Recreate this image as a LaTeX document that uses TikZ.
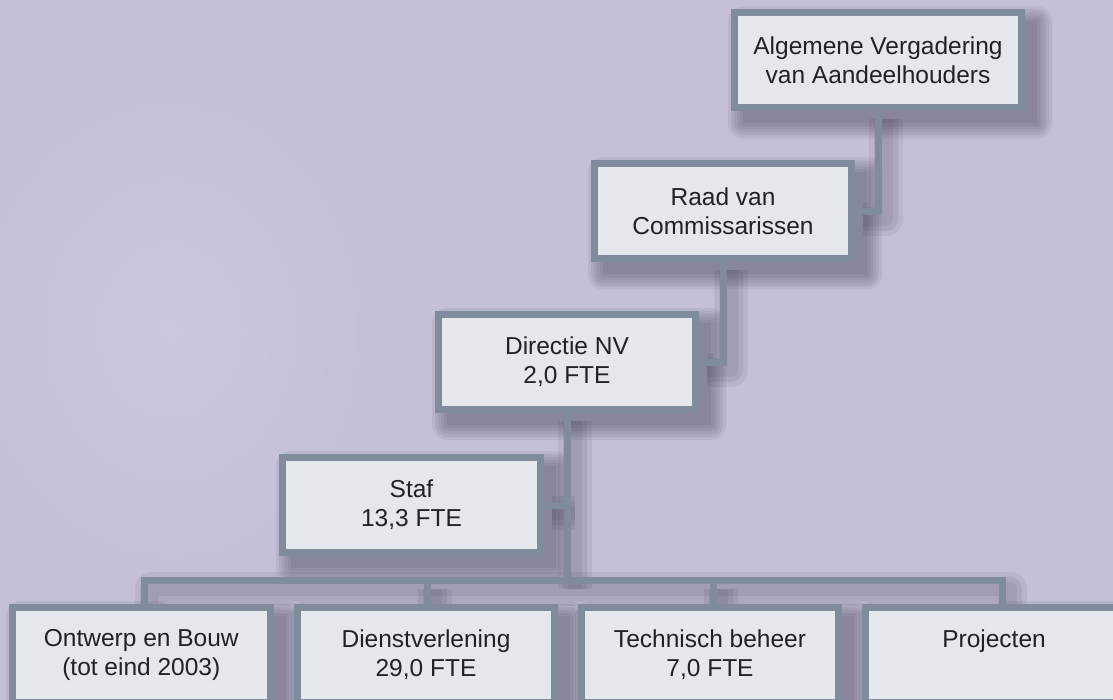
\documentclass[tikz,border=0pt]{standalone}
\usepackage{fontspec}
\setmainfont{Liberation Sans}

\definecolor{bgcol}{RGB}{196,193,214}
\definecolor{bglight}{RGB}{203,200,221}
\definecolor{boxfill}{RGB}{228,231,235}
\definecolor{boxline}{RGB}{128,140,156}
\definecolor{textcol}{RGB}{34,34,38}
\definecolor{shadecol}{RGB}{45,38,62}

\pgfdeclarelayer{back}
\pgfdeclarelayer{shade}
\pgfsetlayers{back,shade,main}

% all connectors of the chart, drawn with the style given
\newcommand{\orglinks}[1]{%
  \draw[#1] (ava.south) |- (raad.east);
  \draw[#1] (raad.south) |- (dir.east);
  \draw[#1] (dir.south) -- (dir.south |- bus);
  \draw[#1] (staf.east) -- (staf.east -| dir.south);
  \draw[#1] (d1) |- (d4 |- bus) -- (d4);
  \draw[#1] (d2) -- (d2 |- bus);
  \draw[#1] (d3) -- (d3 |- bus);
}

\begin{document}
\begin{tikzpicture}[x=1pt, y=-1pt]
    \tikzset{
      orgbox/.style={draw=boxline, line width=7pt, fill=boxfill, text=textcol,
        align=center, inner sep=0pt, minimum width=257pt, minimum height=95pt,
        font=\fontsize{24.5}{29}\selectfont},
      link/.style={draw=boxline, line width=7pt, line join=miter},
      linkshade/.style={draw=shadecol, draw opacity=.08, line width=#1, line join=round,
        transform canvas={shift={(8pt,-8pt)}}},
      boxshade/.style={fill=shadecol, fill opacity=.075},
    }
    \useasboundingbox (0,0) rectangle (1113,700);
    % ===== background =====
    \begin{pgfonlayer}{back}
      \fill[bgcol] (0,0) rectangle (1113,700);
      \shade[inner color=bglight, outer color=bgcol] (170,330) ellipse (200 and 240);
    \end{pgfonlayer}
    % ===== boxes =====
    \node[orgbox, minimum width=287pt] (ava) at (878,60.5) {Algemene Vergadering\\van Aandeelhouders};
    \node[orgbox] (raad) at (723,211.5) {Raad van\\Commissarissen};
    \node[orgbox] (dir)  at (567,362)   {Directie NV\\2,0 FTE};
    \node[orgbox, minimum width=258pt] (staf) at (411.5,505) {Staf\\13,3 FTE};
    \node[orgbox, minimum width=258pt] (b1) at (141.3,655) {Ontwerp en Bouw\\(tot eind 2003)};
    \node[orgbox] (b2) at (426,655) {Dienstverlening\\29,0 FTE};
    \node[orgbox] (b3) at (710,655) {Technisch beheer\\7,0 FTE};
    \node[orgbox] (b4) at (994,655) {Projecten\\\phantom{7,0 FTE}};
    % ===== connectors =====
    \coordinate (bus) at (0,580.5);
    \coordinate (d1) at ([xshift=3pt]b1.north);
    \coordinate (d2) at ([xshift=1pt]b2.north);
    \coordinate (d3) at ([xshift=3pt]b3.north);
    \coordinate (d4) at ([xshift=8pt]b4.north);
    \orglinks{link}
    % ===== soft shadows =====
    \begin{pgfonlayer}{shade}
      \begin{scope}
        \clip (0,0) rectangle (1113,700);
        \foreach \n in {ava,raad,dir,staf,b1,b2,b3,b4}{
          \foreach \e in {0,3,6,9,12,15}{
            \fill[boxshade, rounded corners=\e pt]
              ([shift={(12-\e,12-\e)}]\n.north west) rectangle ([shift={(12+\e,12+\e)}]\n.south east);
          }
        }
        \foreach \w in {34,24,14}{
          \orglinks{linkshade=\w pt}
        }
      \end{scope}
    \end{pgfonlayer}
\end{tikzpicture}
\end{document}
